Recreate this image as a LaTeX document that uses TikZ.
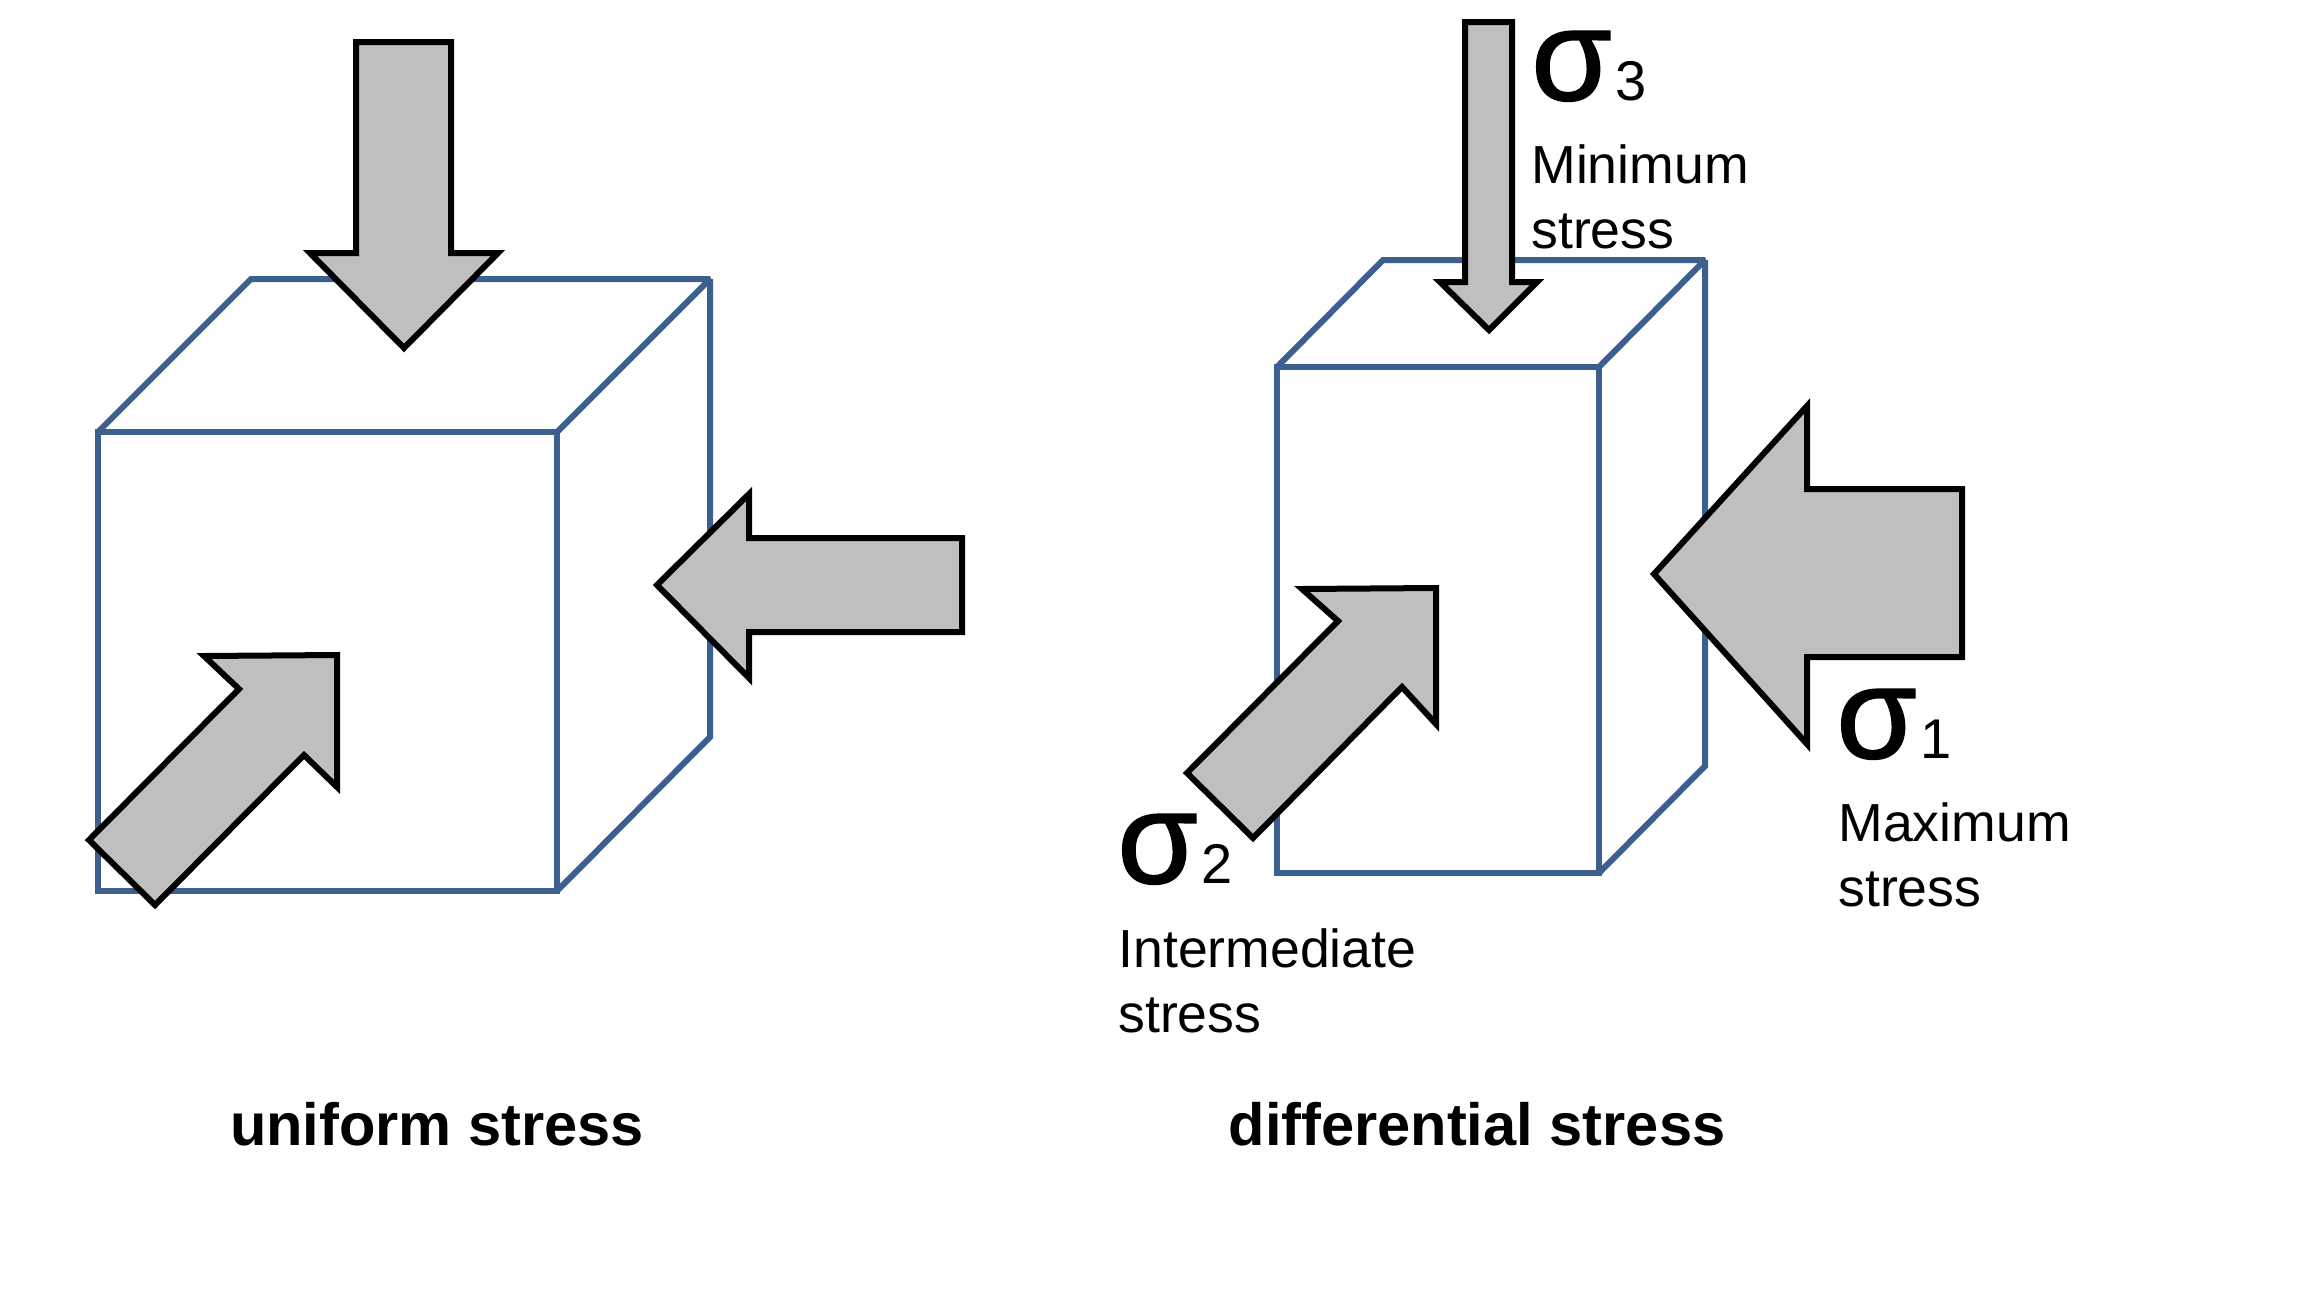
\documentclass[tikz,border=0pt]{standalone}
\usepackage{fontspec}
\setmainfont{Liberation Sans}
\newfontfamily\sigmafont[FakeBold=1.4]{Liberation Sans}
\definecolor{cubeblue}{HTML}{3C5F8D}
\definecolor{arrowgray}{HTML}{BFBFBF}
\newcommand{\stresssym}[1]{{\fontsize{65}{65}\sigmafont σ}\hspace{2pt}{\fontsize{28}{28}\selectfont #1}}
\tikzset{
	cube_edge/.style = {
		draw=cubeblue,
		line width=3pt,
		line join=miter,
		miter limit=2
	},
	stress_arrow/.style = {
		draw=black,
		fill=arrowgray,
		line width=3pt,
		line join=miter
	},
	node_sigma/.style = {
		anchor=base west,
		inner sep=0pt
	},
	node_text/.style = {
		anchor=base west,
		align=left,
		inner sep=0pt,
		font=\fontsize{26.8}{32.5}\selectfont
	},
	node_title/.style = {
		anchor=base,
		inner sep=0pt,
		font=\fontsize{29.8}{34}\selectfont\bfseries
	},
}
\begin{document}
\begin{tikzpicture}[x=0.5pt,y=-0.5pt]
\useasboundingbox (0,0) rectangle (2304,1296);

\draw [cube_edge] (98,432) rectangle (557,891);
\draw [cube_edge] (98,432) -- (251,279) -- (710,279) -- (557,432);
\draw [cube_edge] (710,279) -- (710,737) -- (557,891);

\draw [stress_arrow] (356,42) -- (451,42) -- (451,253) -- (498,253) -- (404,348) -- (310,253) -- (356,253) -- cycle;
\draw [stress_arrow] (657,585) -- (749,494) -- (749,538) -- (962,538) -- (962,632) -- (749,632) -- (749,678) -- cycle;
\draw [stress_arrow] (204,656) -- (337,655) -- (337,787) -- (304,755) -- (155,905) -- (89,840) -- (239,689) -- cycle;

\draw [cube_edge] (1277,367) rectangle (1599,873);
\draw [cube_edge] (1277,367) -- (1383,260) -- (1705,260) -- (1599,367);
\draw [cube_edge] (1705,260) -- (1705,766) -- (1599,873);

\draw [stress_arrow] (1465,22) -- (1512,22) -- (1512,282) -- (1537,282) -- (1489,330) -- (1440,282) -- (1465,282) -- cycle;
\draw [stress_arrow] (1654,574) -- (1807,406) -- (1807,489) -- (1962,489) -- (1962,657) -- (1807,657) -- (1807,744) -- cycle;
\draw [stress_arrow] (1302,589) -- (1436,588) -- (1436,724) -- (1402,687) -- (1253,838) -- (1187,773) -- (1338,621) -- cycle;

\node [node_sigma] (sigma_min) at (1531,100) {\stresssym{3}};
\node [node_text] (text_min) at (1531,248) {Minimum\\stress};
\node [node_sigma] (sigma_max) at (1836,758) {\stresssym{1}};
\node [node_text] (text_max) at (1838,906) {Maximum\\stress};
\node [node_sigma] (sigma_mid) at (1117,883) {\stresssym{2}};
\node [node_text] (text_mid) at (1118,1032) {Intermediate\\stress};

\node [node_title] (title_uniform) at (437,1145) {uniform stress};
\node [node_title] (title_diff) at (1477,1145) {differential stress};
\end{tikzpicture}
\end{document}
